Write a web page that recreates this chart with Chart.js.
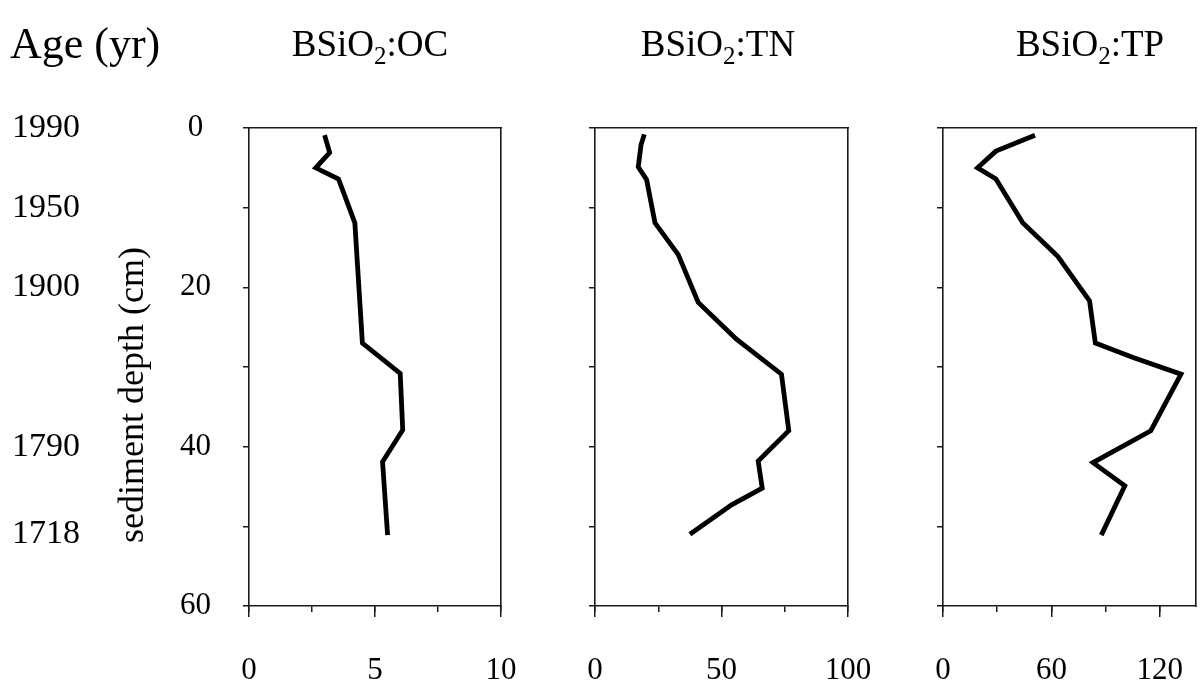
<!DOCTYPE html>
<html>
<head>
<meta charset="utf-8">
<script src="https://cdn.jsdelivr.net/npm/chart.js@4.4.0/dist/chart.umd.min.js"></script>
<style>
  html, body { margin: 0; padding: 0; background: #fff; }
  #wrap { position: relative; width: 1200px; height: 686px; overflow: hidden; }
  #wrap canvas { position: absolute; left: 0; top: 0; }
</style>
</head>
<body>
<div id="wrap">
  <canvas id="cOC" width="1200" height="686"></canvas>
  <canvas id="cTN" width="1200" height="686"></canvas>
  <canvas id="cTP" width="1200" height="686"></canvas>
</div>
<script>
// Sample depths (cm) and ratios for each core profile
const ocDepth = [0.9, 3.1, 5.0, 6.4, 11.9, 27.0, 30.8, 37.9, 41.9, 51.1];
const ocRatio = [3.0, 3.2, 2.65, 3.55, 4.2, 4.5, 6.0, 6.1, 5.3, 5.5];

const tnDepth = [0.8, 2.1, 4.9, 6.5, 11.9, 15.9, 21.9, 26.5, 30.9, 38.0, 41.8, 45.2, 47.3, 51.0];
const tnRatio = [19.5, 18.2, 17.1, 20.4, 23.7, 32.9, 40.8, 55.9, 73.7, 76.6, 64.5, 66.1, 54.0, 37.5];

const tpDepth = [0.9, 2.9, 5.0, 6.4, 11.9, 16.1, 21.7, 27.0, 28.8, 30.9, 38.0, 42.0, 44.9, 51.1];
const tpRatio = [50.9, 29.3, 19.1, 29.3, 44.1, 63.5, 81.1, 84.3, 105.2, 131.7, 115.0, 83.0, 100.6, 87.6];

// Depth axis
const depthTicks = [0, 10, 20, 30, 40, 50, 60];
const depthLabels = [0, 20, 40, 60];

// Dated horizons along the core
const ageDepth = [0, 10, 20, 40, 51];
const ageLabels = ['1990', '1950', '1900', '1790', '1718'];

// Ratio axes
const ocTicks = [0, 2.5, 5, 7.5, 10];
const ocLabels = [0, 5, 10];
const tnTicks = [0, 25, 50, 75, 100];
const tnLabels = [0, 50, 100];
const tpTicks = [0, 30, 60, 90, 120];
const tpLabels = [0, 60, 120];

const ocTitle = ['BSiO', '2', ':OC'];
const tnTitle = ['BSiO', '2', ':TN'];
const tpTitle = ['BSiO', '2', ':TP'];

const FONT = "'Liberation Serif', 'Times New Roman', serif";
const INK = '#000';
const FRAME = '#1a1a1a';

// Title with a lowered subscript digit
function formulaTitle(parts, cx, baseline) {
  return {
    id: 'formulaTitle',
    afterDraw(chart) {
      const ctx = chart.ctx;
      const big = '37px ' + FONT, small = '25px ' + FONT;
      ctx.save();
      ctx.fillStyle = INK;
      ctx.textAlign = 'left';
      ctx.textBaseline = 'alphabetic';
      ctx.font = big;
      const w1 = ctx.measureText(parts[0]).width;
      const w3 = ctx.measureText(parts[2]).width;
      ctx.font = small;
      const w2 = ctx.measureText(parts[1]).width;
      let x = cx - (w1 + w2 + w3) / 2;
      ctx.font = big;   ctx.fillText(parts[0], x, baseline); x += w1;
      ctx.font = small; ctx.fillText(parts[1], x, baseline + 8); x += w2;
      ctx.font = big;   ctx.fillText(parts[2], x, baseline);
      ctx.restore();
    }
  };
}

// Headings that belong to the left-hand axes
const leftHeadings = {
  id: 'leftHeadings',
  afterDraw(chart) {
    const ctx = chart.ctx;
    ctx.save();
    ctx.fillStyle = INK;
    ctx.textAlign = 'left';
    ctx.textBaseline = 'alphabetic';
    ctx.font = '44px ' + FONT;
    ctx.fillText('Age (yr)', 10, 58);
    ctx.translate(134, 395);
    ctx.rotate(-Math.PI / 2);
    ctx.textAlign = 'center';
    ctx.textBaseline = 'middle';
    ctx.font = '36px ' + FONT;
    ctx.fillText('sediment depth (cm)', 0, 0);
    ctx.restore();
  }
};

// Plain border line on the top and right of a panel
function frameAxis(position) {
  const horiz = position === 'top';
  return {
    type: 'linear',
    position: position,
    display: true,
    min: 0, max: 1,
    afterFit: s => { if (horiz) s.height = 0; else s.width = 0; },
    ticks: { display: false },
    grid: { drawOnChartArea: false, drawTicks: false },
    border: { display: true, color: FRAME, width: 1.6 }
  };
}

function makePanel(canvasId, o) {
  const scales = {
    x: {
      type: 'linear', position: 'bottom', weight: 1, min: 0, max: o.xMax,
      afterBuildTicks: s => { s.ticks = o.xTicks.map(v => ({ value: v })); },
      // fixed band under the panel; labels may overhang the sides
      afterFit: s => { s.height = 80; s.paddingLeft = 0; s.paddingRight = 0; },
      ticks: {
        autoSkip: false, maxRotation: 0, minRotation: 0, padding: 40, color: INK,
        font: { family: FONT, size: 31 },
        callback: v => o.xLabels.includes(v) ? String(v) : ''
      },
      grid: { drawOnChartArea: false, tickLength: 6, color: FRAME, lineWidth: 1.5 },
      border: { display: true, color: FRAME, width: 1.6 }
    },
    // longer marks at the labelled values
    xMajor: {
      type: 'linear', position: 'bottom', weight: 0, min: 0, max: o.xMax,
      afterBuildTicks: s => { s.ticks = o.xLabels.map(v => ({ value: v })); },
      afterFit: s => { s.height = 0; s.paddingLeft = 0; s.paddingRight = 0; },
      ticks: { display: false },
      grid: { drawOnChartArea: false, tickLength: 11, color: FRAME, lineWidth: 1.5 },
      border: { display: false }
    },
    y: {
      type: 'linear', position: 'left', weight: 0, min: 0, max: 60, reverse: true,
      afterBuildTicks: s => { s.ticks = depthTicks.map(v => ({ value: v })); },
      afterFit: s => { s.width = o.yWidth; },
      ticks: {
        autoSkip: false, crossAlign: 'center', padding: 32, color: INK,
        font: { family: FONT, size: 31 },
        callback: v => (o.depthText && depthLabels.includes(v)) ? String(v) : ''
      },
      grid: { drawOnChartArea: false, tickLength: 6, color: FRAME, lineWidth: 1.5 },
      border: { display: true, color: FRAME, width: 1.6 }
    },
    xTop: frameAxis('top'),
    yRight: frameAxis('right')
  };
  if (o.ageAxis) {
    scales.age = {
      type: 'linear', position: 'left', weight: 1, min: 0, max: 60, reverse: true,
      afterBuildTicks: s => { s.ticks = ageDepth.map(v => ({ value: v })); },
      afterFit: s => { s.width = 117; },
      ticks: {
        autoSkip: false, crossAlign: 'far', color: INK,
        font: { family: FONT, size: 34 },
        callback: (v, i) => ageLabels[i]
      },
      grid: { display: false, drawTicks: false },
      border: { display: false }
    };
  }
  const plugins = [formulaTitle(o.title, o.titleX, 56)];
  if (o.ageAxis) plugins.push(leftHeadings);

  return new Chart(document.getElementById(canvasId), {
    type: 'scatter',
    data: {
      datasets: [{
        data: o.depth.map((d, i) => ({ x: o.ratio[i], y: d })),
        showLine: true,
        fill: false,
        borderColor: INK,
        borderWidth: 4.8,
        borderJoinStyle: 'miter',
        pointRadius: 0,
        tension: 0,
        xAxisID: 'x',
        yAxisID: 'y'
      }]
    },
    options: {
      responsive: false,
      animation: false,
      devicePixelRatio: 1,
      events: [],
      layout: { padding: o.padding },
      plugins: { legend: { display: false }, tooltip: { enabled: false } },
      scales: scales
    },
    plugins: plugins
  });
}

makePanel('cOC', {
  depth: ocDepth, ratio: ocRatio, xMax: 10, xTicks: ocTicks, xLabels: ocLabels,
  title: ocTitle, titleX: 370, depthText: true, ageAxis: true, yWidth: 120,
  padding: { left: 12, right: 699, top: 128, bottom: 0 }
});
makePanel('cTN', {
  depth: tnDepth, ratio: tnRatio, xMax: 100, xTicks: tnTicks, xLabels: tnLabels,
  title: tnTitle, titleX: 718, depthText: false, ageAxis: false, yWidth: 20,
  padding: { left: 575, right: 352, top: 128, bottom: 0 }
});
makePanel('cTP', {
  depth: tpDepth, ratio: tpRatio, xMax: 140, xTicks: tpTicks, xLabels: tpLabels,
  title: tpTitle, titleX: 1090, depthText: false, ageAxis: false, yWidth: 20,
  padding: { left: 923, right: 4, top: 128, bottom: 0 }
});
</script>
</body>
</html>
